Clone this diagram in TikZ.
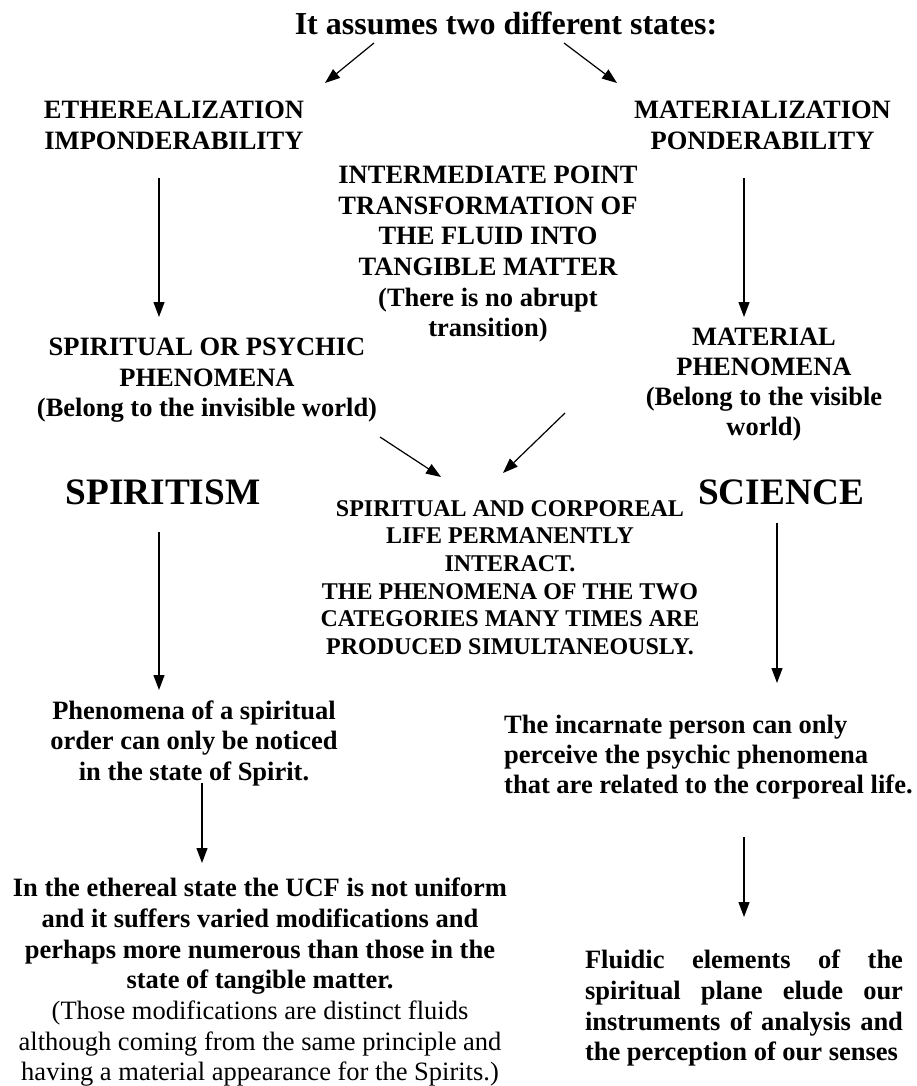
\documentclass[tikz,border=0pt]{standalone}
\usepackage{fontspec}
\setmainfont{Liberation Serif}
\usetikzlibrary{arrows.meta}
\tikzset{
  txt/.style={inner sep=0pt, align=center, font=\bfseries\fontsize{26.5}{30.6}\selectfont},
  big/.style={inner sep=0pt, anchor=base, font=\bfseries\fontsize{37.3}{40}\selectfont},
  arr/.style={line width=1.2pt, -{Triangle[length=15pt,width=11pt]}}
}
\begin{document}
\begin{tikzpicture}[x=1pt,y=-1pt]
\useasboundingbox (0,0) rectangle (917,1086);
\node[txt, anchor=base, font=\bfseries\fontsize{32}{36}\selectfont] (title) at (506,34.5) {It assumes two different states:};
\node[txt] (eth) at (174,125.4) {ETHEREALIZATION\\IMPONDERABILITY};
\node[txt] (mat) at (762.5,125.4) {MATERIALIZATION\\PONDERABILITY};
\node[txt] (mid) at (488,254.3) {INTERMEDIATE POINT\\TRANSFORMATION OF\\THE FLUID INTO\\TANGIBLE MATTER\\(There is no abrupt\\transition)};
\node[txt] (psy) at (207,380.2) {SPIRITUAL OR PSYCHIC\\PHENOMENA\\(Belong to the invisible world)};
\node[txt, font=\bfseries\fontsize{26.5}{30}\selectfont] (matp) at (764,384.8) {MATERIAL\\PHENOMENA\\(Belong to the visible\\world)};
\node[big] (spi) at (163,504) {SPIRITISM};
\node[big] (sci) at (781,504) {SCIENCE};
\node[txt, font=\bfseries\fontsize{24}{27.7}\selectfont] (life) at (510,577.5) {SPIRITUAL AND CORPOREAL\\LIFE PERMANENTLY\\INTERACT.\\THE PHENOMENA OF THE TWO\\CATEGORIES MANY TIMES ARE\\PRODUCED SIMULTANEOUSLY.};
\node[txt] (ord) at (194,743.3) {Phenomena of a spiritual\\order can only be noticed\\in the state of Spirit.};
\node[txt, align=left, anchor=west, font=\bfseries\fontsize{26.5}{30}\selectfont] (inc) at (504,757.4) {The incarnate person can only\\perceive the psychic phenomena\\that are related to the corporeal life.};
\node[txt, font=\bfseries\fontsize{26.5}{30.7}\selectfont] (uni) at (260,982.4) {In the ethereal state the UCF is not uniform\\and it suffers varied modifications and\\perhaps more numerous than those in the\\state of tangible matter.\\\mdseries(Those modifications are distinct fluids\\\mdseries although coming from the same principle and\\\mdseries having a material appearance for the Spirits.)};
\node[txt, align=left, font=\bfseries\fontsize{26.5}{30.7}\selectfont] (flu) at (744,1008.4) {\makebox[318pt][s]{Fluidic elements of the}\\\makebox[318pt][s]{spiritual plane elude our}\\\makebox[318pt][s]{instruments of analysis and}\\the perception of our senses};
\coordinate (t1) at (374,43); \coordinate (h1) at (325,83);
\coordinate (t2) at (564,43); \coordinate (h2) at (617,83);
\draw[arr] (t1) -- (h1);
\draw[arr] (t2) -- (h2);
\coordinate (t3) at (159,178); \coordinate (h3) at (159,317);
\coordinate (t4) at (744,178); \coordinate (h4) at (744,317);
\draw[arr] (t3) -- (h3);
\draw[arr] (t4) -- (h4);
\coordinate (t5) at (380,437); \coordinate (h5) at (441,477);
\coordinate (t6) at (565,413); \coordinate (h6) at (503,473);
\draw[arr] (t5) -- (h5);
\draw[arr] (t6) -- (h6);
\coordinate (t7) at (159,532); \coordinate (h7) at (159,690);
\coordinate (t8) at (777,523); \coordinate (h8) at (777,683);
\draw[arr] (t7) -- (h7);
\draw[arr] (t8) -- (h8);
\coordinate (t9) at (202,783); \coordinate (h9) at (202,863);
\coordinate (t10) at (744,837); \coordinate (h10) at (744,917);
\draw[arr] (t9) -- (h9);
\draw[arr] (t10) -- (h10);
\end{tikzpicture}
\end{document}
